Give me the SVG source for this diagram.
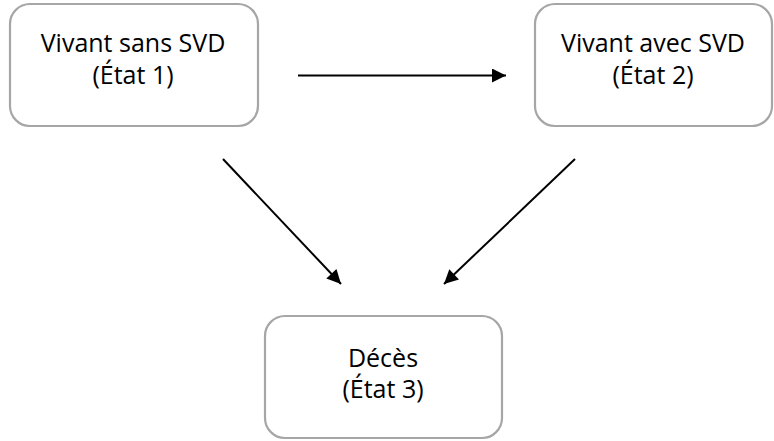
<svg xmlns="http://www.w3.org/2000/svg" width="774" height="441" viewBox="0 0 774 441">
<style>
.box{fill:#fff;stroke:#a6a6a6;stroke-width:2.2}
.t{font-family:"Open Sans","Liberation Sans",sans-serif;font-size:25px;fill:#000;text-anchor:middle}
.c{stroke:#000;stroke-width:2;fill:none}
</style>
<defs>
<marker id="ah" viewBox="0 0 10 10" refX="10" refY="5" markerWidth="8" markerHeight="7" markerUnits="strokeWidth" orient="auto"><path d="M0,0 L10,5 L0,10 z" fill="#000"/></marker>
</defs>
<rect width="774" height="441" fill="#fff"/>
<g id="n1"><rect class="box" x="10" y="4" width="248" height="122" rx="20"/><text class="t" x="133" y="52">Vivant sans SVD</text><text class="t" x="133" y="84">(État 1)</text></g>
<g id="n2"><rect class="box" x="535" y="4" width="237" height="122" rx="20"/><text class="t" x="653" y="52">Vivant avec SVD</text><text class="t" x="653" y="84">(État 2)</text></g>
<g id="n3"><rect class="box" x="265" y="316" width="237" height="122" rx="20"/><text class="t" x="383" y="367">Décès</text><text class="t" x="383" y="398">(État 3)</text></g>
<g id="connectors">
<line class="c" x1="298" y1="75.5" x2="506" y2="75.5" marker-end="url(#ah)"/>
<line class="c" x1="223" y1="159" x2="341" y2="284" marker-end="url(#ah)"/>
<line class="c" x1="575" y1="159" x2="444" y2="284" marker-end="url(#ah)"/>
</g>
</svg>
